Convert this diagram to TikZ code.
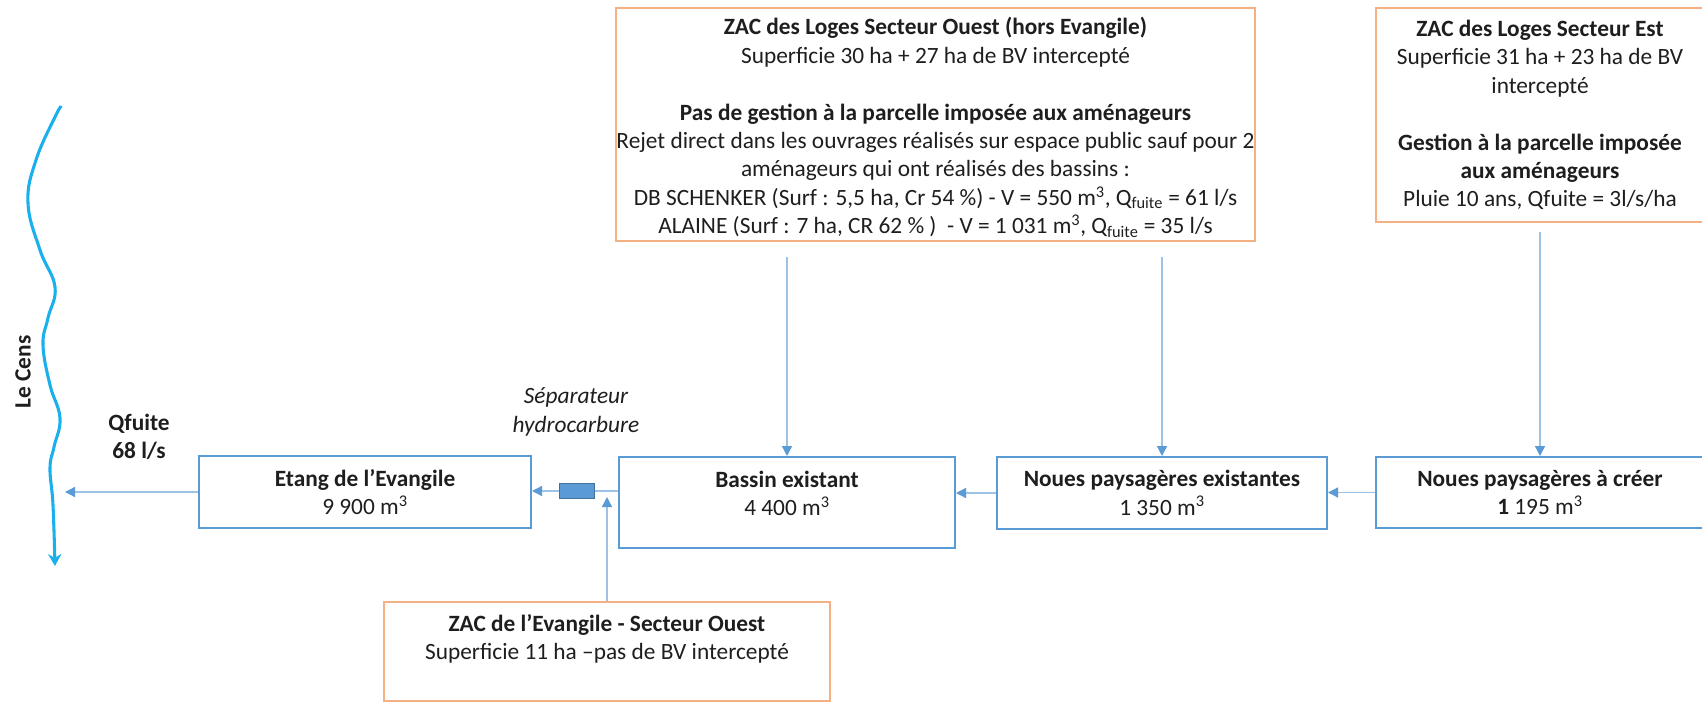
\documentclass[tikz,border=0pt]{standalone}
\usepackage{fontspec}
\setmainfont{Carlito}
\usetikzlibrary{arrows.meta}
\definecolor{boxblue}{HTML}{5B9BD5}
\definecolor{boxorange}{HTML}{F4B183}
\definecolor{connblue}{HTML}{9DC3E6}
\definecolor{tipblue}{HTML}{5B9BD5}
\definecolor{sepedge}{HTML}{41719C}
\definecolor{riverblue}{HTML}{1AB0EC}
\definecolor{txt}{HTML}{1E1E1E}
\tikzset{
  basefont/.style={font=\fontsize{17.5}{21.3}\selectfont, text=txt, align=center},
  bluebox/.style={basefont, draw=boxblue, line width=1.5pt, rectangle, inner sep=0pt},
  orangebox/.style={basefont, draw=boxorange, line width=1.5pt, rectangle, inner sep=0pt},
  plaintext/.style={basefont, inner sep=0pt},
  conn/.style={draw=connblue, line width=1pt, -{Triangle[length=7.5pt,width=7.5pt,color=tipblue]}},
  connplain/.style={draw=connblue, line width=1pt},
  sepbox/.style={draw=sepedge, fill=boxblue, line width=0.8pt, rectangle, inner sep=0pt,
    minimum width=35*0.75pt, minimum height=15*0.75pt},
  river/.style={draw=riverblue, line width=2.3pt, line cap=round,
    -{Stealth[length=9pt,width=10pt,inset=3pt]}}
}
\begin{document}
\begin{tikzpicture}[x=0.75pt,y=-0.75pt]
\fill[white] (0,0) rectangle (1702,703);
\useasboundingbox (0,0) rectangle (1702,703);

% top boxes
\node[orangebox, minimum width=633*0.75pt, minimum height=233*0.75pt] (topW) at (935.5,124.5)
 {\rule{0pt}{17.5pt}\textbf{ZAC des Loges Secteur Ouest (hors Evangile)}\\
  Superficie 30 ha + 27 ha de BV intercepté\\[21.3pt]
  \textbf{Pas de gestion à la parcelle imposée aux aménageurs}\\
  Rejet direct dans les ouvrages réalisés sur espace public sauf pour 2\\
  aménageurs qui ont réalisés des bassins :\\
  DB SCHENKER (Surf : 5,5 ha, Cr 54 \%) - V = 550 m\textsuperscript{3}, Q\textsubscript{fuite} = 61 l/s\\
  ALAINE (Surf : 7 ha, CR 62 \% )\ \ - V = 1 031 m\textsuperscript{3}, Q\textsubscript{fuite} = 35 l/s};

\node[orangebox, minimum width=328*0.75pt, minimum height=214*0.75pt] (topE) at (1540,115)
 {\textbf{ZAC des Loges Secteur Est}\\
  Superficie 31 ha + 23 ha de BV\\
  intercepté\\[21.3pt]
  \textbf{Gestion à la parcelle imposée}\\
  \textbf{aux aménageurs}\\
  Pluie 10 ans, Qfuite = 3l/s/ha};

% bottom row
\node[bluebox, minimum width=332*0.75pt, minimum height=72*0.75pt] (etang) at (365,492)
 {\textbf{Etang de l’Evangile}\\ 9 900 m\textsuperscript{3}};
\node[sepbox] (sep) at (577,491) {};
\node[bluebox, minimum width=336*0.75pt, minimum height=91*0.75pt] (bassin) at (787,502.5) {};
\node[plaintext] (bassintxt) at (787,493.5) {\textbf{Bassin existant}\\ 4 400 m\textsuperscript{3}};
\node[bluebox, minimum width=330*0.75pt, minimum height=72*0.75pt] (nexist) at (1162,493)
 {\textbf{Noues paysagères existantes}\\ 1 350 m\textsuperscript{3}};
\node[bluebox, minimum width=328*0.75pt, minimum height=71*0.75pt] (ncreer) at (1540,492.5)
 {\textbf{Noues paysagères à créer}\\ \textbf{1} 195 m\textsuperscript{3}};

% lower orange box
\node[orangebox, minimum width=446*0.75pt, minimum height=99*0.75pt] (evzac) at (607,651.5)
 {\textbf{ZAC de l’Evangile - Secteur Ouest}\\ Superficie 11 ha –pas de BV intercepté\\ \mbox{}};

% labels
\node[plaintext, font=\fontsize{17.5}{21.3}\selectfont\itshape] (septxt) at (576,412)
 {Séparateur\\ hydrocarbure};
\node[plaintext, font=\fontsize{17.5}{21.3}\selectfont\bfseries] (qf) at (139,437)
 {Qfuite\\ 68 l/s};
\node[plaintext, font=\fontsize{17.5}{21.3}\selectfont\bfseries, rotate=90] (cens) at (23,372) {Le Cens};

% river
\draw[river] plot[smooth, tension=0.7] coordinates {(61,107) (56,115) (36,160) (28,203) (40,250) (55,287) (48,318) (43,345) (50,385) (60,418) (54,447) (50,468) (53,505) (55,566)};

% connectors
\coordinate (censpt) at (65,492);
\coordinate (joint) at (607,497);
\draw[conn] (etang.west) -- (censpt);
\draw[conn] (sep.west) -- (sep.west -| etang.east);
\draw[connplain] (sep.east) -- (sep.east -| bassin.west);
\draw[conn] (evzac.north) -- (joint);
\draw[conn] (nexist.west) -- (nexist.west -| bassin.east);
\draw[conn] (ncreer.west) -- (ncreer.west -| nexist.east);
\draw[conn] ([yshift=-15*0.75pt]topW.south -| bassin.north) -- (bassin.north);
\draw[conn] ([yshift=-15*0.75pt]topW.south -| nexist.north) -- (nexist.north);
\draw[conn] ([yshift=-9*0.75pt]topE.south) -- (ncreer.north);
\end{tikzpicture}
\end{document}
